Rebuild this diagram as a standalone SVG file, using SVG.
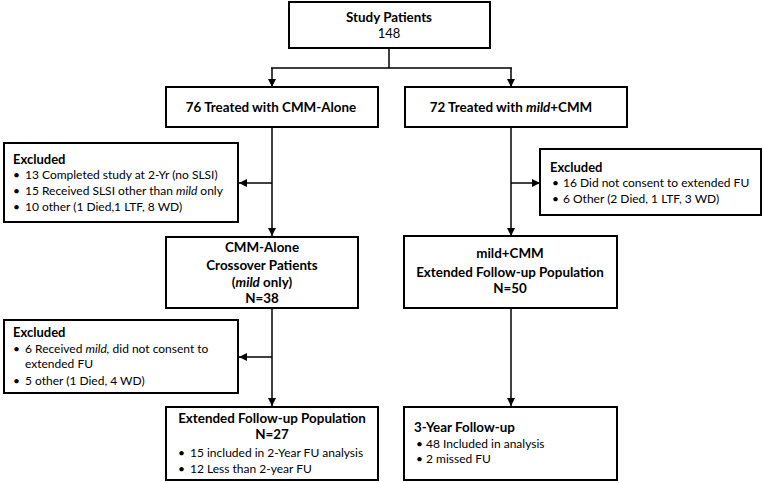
<svg xmlns="http://www.w3.org/2000/svg" width="764" height="483" viewBox="0 0 764 483">
<defs>
<marker id="ah" viewBox="0 0 10 10" refX="10" refY="5" markerWidth="8" markerHeight="8" markerUnits="userSpaceOnUse" orient="auto">
<path d="M0,0 L10,5 L0,10 z" fill="#000"/>
</marker>
<style>
.box{fill:#fff;stroke:#000;stroke-width:2}
.t{font-family:Lato,"Liberation Sans",sans-serif;font-size:12px;fill:#000}
.b{font-weight:bold;font-size:13px}
.h{font-family:Lato,"Liberation Sans",sans-serif;font-size:13.4px;font-weight:bold;fill:#000}
.c{text-anchor:middle}
.conn{fill:none;stroke:#000;stroke-width:1.5}
</style>
</defs>
<rect width="764" height="483" fill="#fff"/>
<g id="connectors">
<path class="conn" d="M389,48 V68 M271,68 H512"/>
<path class="conn" d="M272,68 V87" marker-end="url(#ah)"/>
<path class="conn" d="M511,68 V87" marker-end="url(#ah)"/>
<path class="conn" d="M272,127 V236" marker-end="url(#ah)"/>
<path class="conn" d="M272,183 H239" marker-end="url(#ah)"/>
<path class="conn" d="M511,127 V236" marker-end="url(#ah)"/>
<path class="conn" d="M511,183 H540" marker-end="url(#ah)"/>
<path class="conn" d="M272,308 V406" marker-end="url(#ah)"/>
<path class="conn" d="M272,357 H239" marker-end="url(#ah)"/>
<path class="conn" d="M511,308 V406" marker-end="url(#ah)"/>
</g>
<g id="study">
<rect class="box" x="289" y="2" width="201" height="46"/>
<text class="h c" x="389" y="22">Study Patients</text>
<text class="t c" x="389" y="38" style="font-size:13px">148</text>
</g>
<g id="cmm-alone">
<rect class="box" x="166" y="87" width="212" height="40"/>
<text class="h c" x="271" y="112">76 Treated with CMM-Alone</text>
</g>
<g id="mild-cmm">
<rect class="box" x="405" y="87" width="222" height="40"/>
<text class="h c" x="511" y="112">72 Treated with <tspan font-style="italic">mild</tspan>+CMM</text>
</g>
<g id="excluded-left1">
<rect class="box" x="4" y="143" width="234" height="79"/>
<text class="t b" x="13" y="164">Excluded</text>
<text class="t" x="13" y="179">•<tspan x="25">13 Completed study at 2-Yr (no SLSI)</tspan></text>
<text class="t" x="13" y="195">•<tspan x="25">15 Received SLSI other than <tspan font-style="italic">mild</tspan> only</tspan></text>
<text class="t" x="13" y="211">•<tspan x="25">10 other (1 Died,1 LTF, 8 WD)</tspan></text>
</g>
<g id="excluded-right">
<rect class="box" x="540" y="149" width="221" height="66"/>
<text class="t b" x="550" y="172">Excluded</text>
<text class="t" x="552" y="187">•<tspan x="563">16 Did not consent to extended FU</tspan></text>
<text class="t" x="552" y="203">•<tspan x="563">6 Other (2 Died, 1 LTF, 3 WD)</tspan></text>
</g>
<g id="crossover">
<rect class="box" x="166" y="237" width="192" height="71"/>
<text class="h c" x="262" y="252">CMM-Alone</text>
<text class="h c" x="262" y="270">Crossover Patients</text>
<text class="h c" x="262" y="287">(<tspan font-style="italic">mild</tspan> only)</text>
<text class="h c" x="262" y="303">N=38</text>
</g>
<g id="extended-mild">
<rect class="box" x="404" y="236" width="213" height="72"/>
<text class="h c" x="510" y="258">mild+CMM</text>
<text class="h c" x="510" y="277">Extended Follow-up Population</text>
<text class="h c" x="510" y="293">N=50</text>
</g>
<g id="excluded-left2">
<rect class="box" x="4" y="320" width="234" height="73"/>
<text class="t b" x="13" y="337">Excluded</text>
<text class="t" x="13" y="353">•<tspan x="25">6 Received <tspan font-style="italic">mild,</tspan> did not consent to</tspan></text>
<text class="t" x="25" y="368">extended FU</text>
<text class="t" x="13" y="385">•<tspan x="25">5 other (1 Died, 4 WD)</tspan></text>
</g>
<g id="extended-27">
<rect class="box" x="166" y="407" width="212" height="73"/>
<text class="h c" x="272" y="423">Extended Follow-up Population</text>
<text class="h c" x="272" y="439">N=27</text>
<text class="t" x="178" y="457">•<tspan x="190">15 included in 2-Year FU analysis</tspan></text>
<text class="t" x="178" y="473">•<tspan x="190">12 Less than 2-year FU</tspan></text>
</g>
<g id="three-year">
<rect class="box" x="404" y="407" width="213" height="73"/>
<text class="h" x="414" y="432">3-Year Follow-up</text>
<text class="t" x="416" y="448">•<tspan x="426">48 Included in analysis</tspan></text>
<text class="t" x="416" y="463">•<tspan x="426">2 missed FU</tspan></text>
</g>
</svg>
